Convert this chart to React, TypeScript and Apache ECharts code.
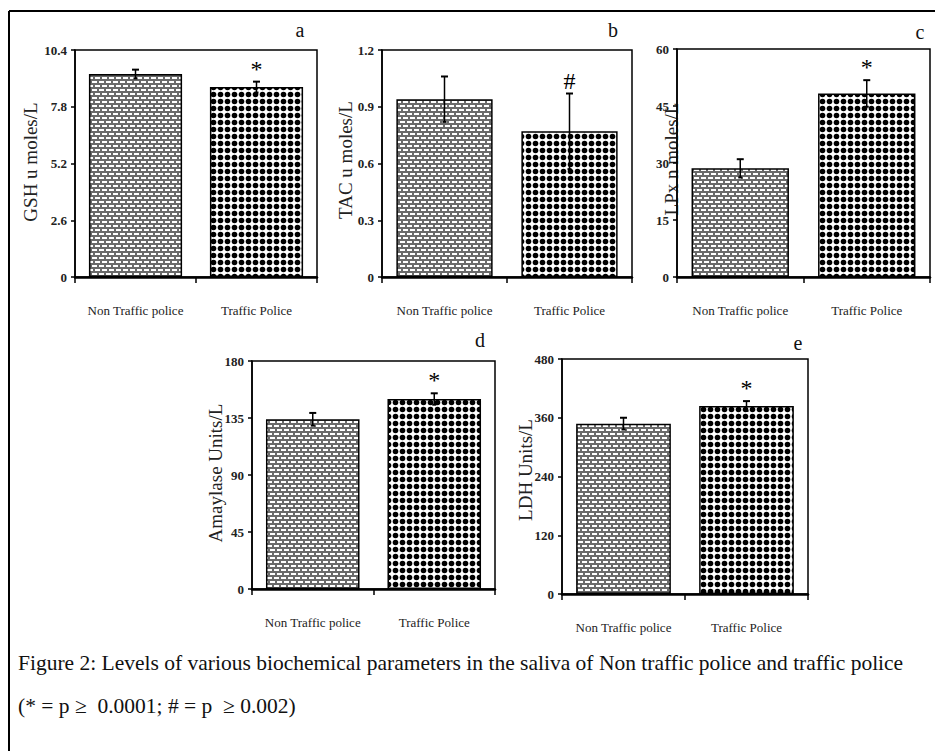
import React, { useEffect, useRef } from "react";
import * as echarts from "echarts";

const categories = ["Non Traffic police", "Traffic Police"];

const gshValues = [9.3, 8.7];
const gshErrors = [0.2, 0.25];
const gshMarks = ["", "*"];

const tacValues = [0.94, 0.77];
const tacErrors = [0.12, 0.2];
const tacMarks = ["", "#"];

const lpxValues = [28.6, 48.3];
const lpxErrors = [2.4, 3.5];
const lpxMarks = ["", "*"];

const amylaseValues = [134, 150];
const amylaseErrors = [5, 4.5];
const amylaseMarks = ["", "*"];

const ldhValues = [348, 384];
const ldhErrors = [12, 10];
const ldhMarks = ["", "*"];

const panelLetters = ["a", "b", "c", "d", "e"];
const axisNames = ["GSH u moles/L", "TAC u moles/L", "LPx n moles/L", "Amaylase Units/L", "LDH Units/L"];
const axisMax = [10.4, 1.2, 60, 180, 480];
const axisInterval = [2.6, 0.3, 15, 45, 120];

const captionLine1 = "Figure 2: Levels of various biochemical parameters in the saliva of Non traffic police and traffic police";
const captionLine2 = "(* = p \u2265  0.0001; # = p  \u2265 0.002)";

const FONT = "Liberation Serif, Times New Roman, serif";

function makeBrick(): HTMLCanvasElement {
  const c = document.createElement("canvas");
  c.width = 7;
  c.height = 8;
  const g = c.getContext("2d")!;
  g.fillStyle = "#6a6a6a";
  g.fillRect(0, 0, 7, 8);
  g.fillStyle = "#ffffff";
  g.fillRect(1, 1, 5, 2);
  g.fillRect(4, 5, 5, 2);
  g.fillRect(-3, 5, 5, 2);
  return c;
}

function makeDots(): HTMLCanvasElement {
  const c = document.createElement("canvas");
  c.width = 7;
  c.height = 7;
  const g = c.getContext("2d")!;
  g.fillStyle = "#ffffff";
  g.fillRect(0, 0, 7, 7);
  g.fillStyle = "#000000";
  g.beginPath();
  g.arc(3.5, 3.5, 2.8, 0, Math.PI * 2);
  g.fill();
  return c;
}

export default function App() {
  const ref = useRef<HTMLDivElement>(null);
  useEffect(() => {
    if (!ref.current) return;
    const chart = echarts.init(ref.current, null, { renderer: "svg" });
    const brick = makeBrick();
    const dots = makeDots();
    const brickFill: any = { image: brick, repeat: "repeat", imageWidth: 7, imageHeight: 8 };
    const dotFill: any = { image: dots, repeat: "repeat", imageWidth: 7, imageHeight: 7 };

    const panels = [
      { values: gshValues, errors: gshErrors, marks: gshMarks },
      { values: tacValues, errors: tacErrors, marks: tacMarks },
      { values: lpxValues, errors: lpxErrors, marks: lpxMarks },
      { values: amylaseValues, errors: amylaseErrors, marks: amylaseMarks },
      { values: ldhValues, errors: ldhErrors, marks: ldhMarks },
    ];

    const grids = [
      { left: 75, top: 50, width: 242, height: 227 },
      { left: 382, top: 50, width: 250, height: 227 },
      { left: 677, top: 49, width: 253, height: 228 },
      { left: 252, top: 361, width: 243, height: 228 },
      { left: 562, top: 359, width: 246, height: 235 },
    ];

    const letterPos = [
      [300, 30],
      [613, 30],
      [920, 32],
      [480, 340],
      [798, 343],
    ];
    const namePos = [
      [30, 162],
      [345, 160],
      [671, 159],
      [215, 473],
      [525, 470],
    ];

    const series: any[] = [];
    panels.forEach((p, i) => {
      series.push({
        type: "bar",
        xAxisIndex: i,
        yAxisIndex: i,
        barCategoryGap: "23%",
        data: p.values.map((v, j) => ({
          value: v,
          itemStyle: {
            color: j === 0 ? brickFill : dotFill,
            borderColor: "#000",
            borderWidth: 1.5,
          },
        })),
        z: 2,
      });
      series.push({
        type: "custom",
        xAxisIndex: i,
        yAxisIndex: i,
        z: 5,
        clip: false,
        data: p.values.map((v, j) => [j, v, p.errors[j]]),
        renderItem: (params: any, api: any) => {
          const x = api.value(0);
          const v = api.value(1);
          const e = api.value(2);
          const top = api.coord([x, v + e]);
          const bot = api.coord([x, v - e]);
          const cx = top[0];
          const mark = p.marks[params.dataIndex];
          const children: any[] = [
            { type: "line", shape: { x1: cx, y1: top[1], x2: cx, y2: bot[1] }, style: { stroke: "#000", lineWidth: 1.5 } },
            { type: "line", shape: { x1: cx - 3.5, y1: top[1], x2: cx + 3.5, y2: top[1] }, style: { stroke: "#000", lineWidth: 2 } },
            { type: "line", shape: { x1: cx - 2, y1: bot[1], x2: cx + 2, y2: bot[1] }, style: { stroke: "#000", lineWidth: 2 } },
          ];
          if (mark) {
            children.push({
              type: "text",
              x: cx,
              y: top[1] - 13,
              style: {
                text: mark,
                fontFamily: FONT,
                fontSize: 24,
                fill: "#000",
                textAlign: "center",
                textVerticalAlign: "middle",
              },
            });
          }
          return { type: "group", children };
        },
      });
    });

    const graphic: any[] = [
      { type: "line", shape: { x1: 9, y1: 11, x2: 935, y2: 11 }, style: { stroke: "#000", lineWidth: 2 } },
      { type: "line", shape: { x1: 9, y1: 11, x2: 9, y2: 751 }, style: { stroke: "#000", lineWidth: 2 } },
      {
        type: "text",
        x: 18,
        y: 663,
        style: { text: captionLine1, fontFamily: FONT, fontSize: 21.5, fill: "#111", textVerticalAlign: "middle" },
      },
      {
        type: "text",
        x: 18,
        y: 706,
        style: { text: captionLine2, fontFamily: FONT, fontSize: 21.5, fill: "#111", textVerticalAlign: "middle" },
      },
    ];
    panelLetters.forEach((l, i) => {
      graphic.push({
        type: "text",
        x: letterPos[i][0],
        y: letterPos[i][1],
        style: { text: l, fontFamily: FONT, fontSize: 20, fill: "#111", textAlign: "center", textVerticalAlign: "middle" },
      });
    });
    axisNames.forEach((n, i) => {
      graphic.push({
        type: "text",
        x: namePos[i][0],
        y: namePos[i][1],
        rotation: Math.PI / 2,
        style: { text: n, fontFamily: FONT, fontSize: 19, fill: "#222", textAlign: "center", textVerticalAlign: "middle" },
      });
    });

    chart.setOption({
      animation: false,
      backgroundColor: "#fff",
      grid: grids.map((g) => ({ ...g, show: true, borderColor: "#000", borderWidth: 1.5, backgroundColor: "transparent" })),
      xAxis: grids.map((_, i) => ({
        type: "category",
        gridIndex: i,
        data: categories,
        axisLine: { lineStyle: { color: "#000", width: 2.5 } },
        axisTick: { show: true, length: 6, lineStyle: { color: "#000", width: 1.5 } },
        axisLabel: { interval: 0, fontFamily: FONT, fontSize: 13, color: "#222", margin: 27 },
      })),
      yAxis: grids.map((_, i) => ({
        type: "value",
        gridIndex: i,
        min: 0,
        max: axisMax[i],
        interval: axisInterval[i],
        splitLine: { show: false },
        axisLine: { show: true, lineStyle: { color: "#000", width: 1.5 } },
        axisTick: { show: true, length: 4, lineStyle: { color: "#000", width: 1.5 } },
        axisLabel: {
          fontFamily: FONT,
          fontSize: 13,
          fontWeight: "bold",
          color: "#222",
          margin: 8,
          formatter: (v: number) => String(Math.round(v * 100) / 100),
        },
      })),
      series,
      graphic,
    });
    return () => chart.dispose();
  }, []);
  return <div ref={ref} style={{ position: "absolute", left: 0, top: 0, width: 935, height: 751 }} />;
}
